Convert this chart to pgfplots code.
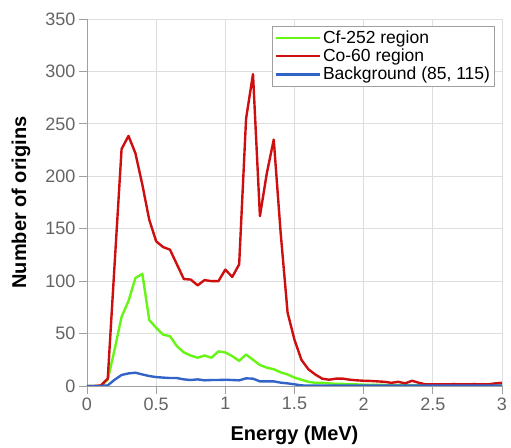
\documentclass[border=0pt]{standalone}
\usepackage{pgfplots}
\pgfplotsset{compat=1.18}
\usepackage{pgfplotstable}
\usepackage{fontspec}
\setmainfont{Liberation Sans}
\definecolor{cfgreen}{RGB}{102,245,20}
\definecolor{cored}{RGB}{205,15,15}
\definecolor{bgblue}{RGB}{50,100,200}
\definecolor{tickgray}{RGB}{100,100,100}
\definecolor{gridgray}{RGB}{222,222,222}
\definecolor{axgray}{RGB}{160,160,160}

\pgfplotstableread{
x cf co bg
0.00 0 0 0
0.05 0 0 0
0.10 0 0.5 0
0.15 6 7 0.6
0.20 35 117 6
0.25 66 226 10.5
0.30 81 238.5 12
0.35 103 222 12.7
0.40 107 192 11
0.45 63 158.5 9.5
0.50 55.5 138 8.5
0.55 49 132.5 8
0.60 47.5 130 7.6
0.65 38 116 7.6
0.70 32 102 6.3
0.75 29 101.5 5.7
0.80 27 96 6.3
0.85 29 101 5.4
0.90 27 100 5.7
0.95 33 100 5.7
1.00 32 111 6
1.05 28.5 104 5.7
1.10 24 116 5.4
1.15 30 255 7.3
1.20 25 297.5 7
1.25 20 162 4.4
1.30 17.5 203 4.4
1.35 16 235 4.4
1.40 13 146 3.2
1.45 11 70 2.5
1.50 8 44 1.6
1.55 6 25 0.6
1.60 4 16 0.3
1.65 3 11 0.3
1.70 3 7 0.3
1.75 2.5 6 0.3
1.80 2 7 0.3
1.85 2 7 0.3
1.90 1.5 6 0.3
1.95 1.5 5.4 0.3
2.00 1.2 5 0.3
2.05 1 4.8 0.3
2.10 1 4.4 0.3
2.15 1 4 0.3
2.20 0.8 3 0.3
2.25 0.8 4 0.3
2.30 0.7 2.5 0.3
2.35 0.7 5 0.3
2.40 0.6 3 0.3
2.45 0.5 1.5 0.3
2.50 0.5 1.5 0.3
2.55 0.5 1.5 0.3
2.60 0.5 1.5 0.3
2.65 0.5 1.8 0.3
2.70 0.5 1.5 0.3
2.75 0.5 1.5 0.3
2.80 0.5 1.8 0.3
2.85 0.5 1.5 0.3
2.90 0.5 1.5 0.3
2.95 0.5 2.5 0.3
3.00 0.5 3 0.3
}\data

\begin{document}
\begin{tikzpicture}[x=1pt,y=1pt]
\begin{axis}[
  name=ax,
  scale only axis,
  width=415pt, height=367pt,
  xmin=0, xmax=3, ymin=0, ymax=350,
  xtick={0,0.5,...,3},
  xticklabels={0,0.5,1,1.5,2,2.5,3},
  ytick={0,50,...,350},
  axis lines*=left,
  axis line style={axgray, line width=0.8pt, -},
  tick style={axgray, line width=0.8pt},
  tick align=outside,
  major tick length=8pt,
  grid=major,
  major grid style={gridgray, line width=0.8pt},
  ticklabel style={font=\fontsize{18}{18}\selectfont, text=tickgray},
  /pgf/number format/assume math mode=true,
  xlabel={\textbf{Energy (MeV)}},
  ylabel={\textbf{Number of origins}},
  label style={font=\fontsize{20}{20}\selectfont},
  xlabel style={at={(axis description cs:0.5,0)}, anchor=north, yshift=-36pt},
  ylabel style={at={(axis description cs:0,0.5)}, anchor=south, xshift=0pt, yshift=53pt},
  legend style={at={(0.983,0.981)}, anchor=north east, draw=axgray, line width=0.8pt,
    font=\fontsize{17.5}{17.5}\selectfont, inner sep=2.5pt, row sep=0pt,
    cells={anchor=west}},
  legend image code/.code={\draw[#1, line width=2.5pt] (0pt,0pt) -- (44pt,0pt);},
  every axis plot/.append style={line width=2.4pt, line join=round},
]
\addplot[cfgreen] table[x=x,y=cf] {\data};
\addlegendentry{Cf-252 region}
\addplot[cored] table[x=x,y=co] {\data};
\addlegendentry{Co-60 region}
\addplot[bgblue] table[x=x,y=bg] {\data};
\addlegendentry{Background (85, 115)}
\end{axis}
\path (ax.south west) ++(-87pt,-58pt) rectangle ++(511pt,444pt);
\end{tikzpicture}
\end{document}
